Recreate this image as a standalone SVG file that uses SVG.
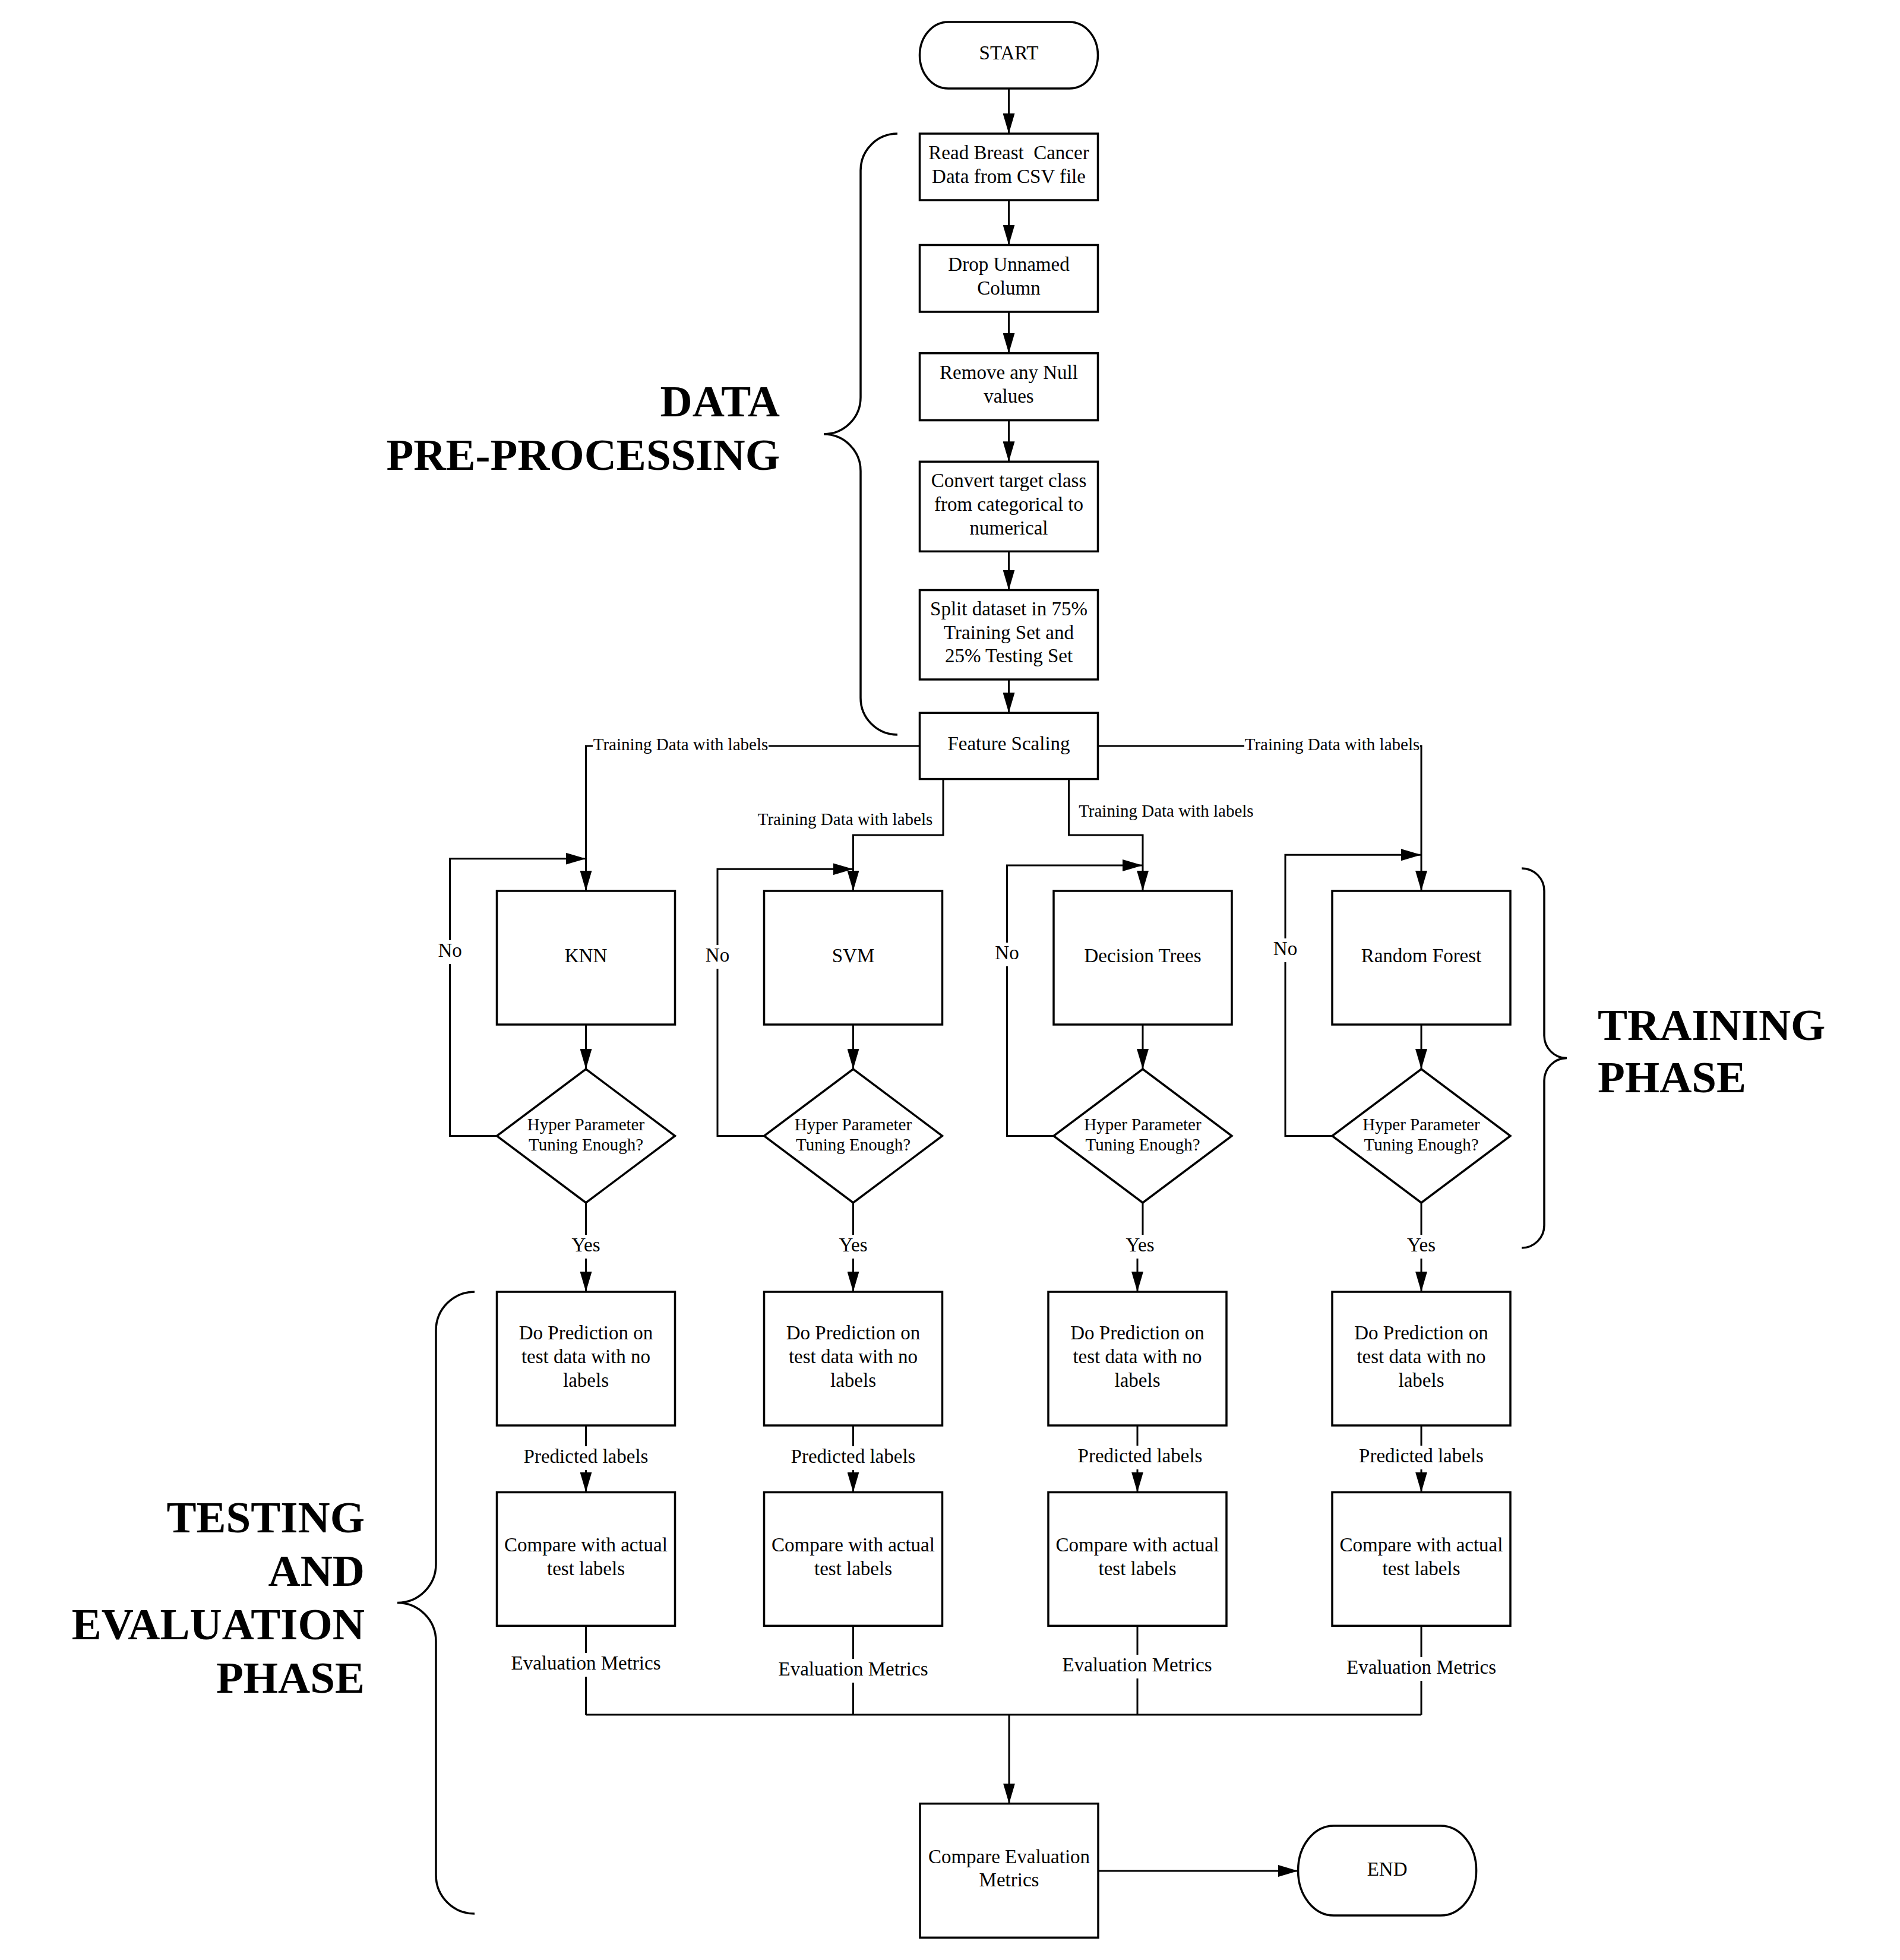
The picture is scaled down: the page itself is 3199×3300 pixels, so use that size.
<svg xmlns="http://www.w3.org/2000/svg" width="3199" height="3300" viewBox="0 0 3199 3300">
<style>
.box{fill:#fff;stroke:#000;stroke-width:3.5}
.con{fill:none;stroke:#000;stroke-width:3}
.arr{marker-end:url(#ah)}
.brace{fill:none;stroke:#000;stroke-width:3.5}
.t{font-family:"Liberation Serif","Times New Roman",serif;font-size:33px;fill:#000;text-anchor:middle}
.s{font-family:"Liberation Serif","Times New Roman",serif;font-size:29px;fill:#000;text-anchor:middle}
.h{font-family:"Liberation Serif","Times New Roman",serif;font-size:75px;font-weight:bold;fill:#000}
.bg{fill:#fff;stroke:none}
</style>
<defs>
<marker id="ah" markerUnits="userSpaceOnUse" markerWidth="34" markerHeight="20" refX="34" refY="10" orient="auto">
<path d="M0,0 L34,10 L0,20 z" fill="#000"/>
</marker>
</defs>
<rect width="3199" height="3300" fill="#fff"/>

<g id="connectors">
<path class="con arr" d="M1698.5,149 V225"/>
<path class="con arr" d="M1698.5,337 V412.5"/>
<path class="con arr" d="M1698.5,525 V594.7"/>
<path class="con arr" d="M1698.5,707.6 V777.3"/>
<path class="con arr" d="M1698.5,928.4 V993.5"/>
<path class="con arr" d="M1698.5,1144 V1200.3"/>
<path class="con arr" d="M1548.5,1256 H986.5 V1500"/>
<path class="con arr" d="M1588,1311.6 V1406 H1436.5 V1500"/>
<path class="con arr" d="M1799.6,1311.6 V1406 H1924 V1500"/>
<path class="con arr" d="M1848.5,1256 H2393 V1500"/>
<path class="con arr" d="M986.5,1725 V1800"/>
<path class="con arr" d="M1436.5,1725 V1800"/>
<path class="con arr" d="M1924,1725 V1800"/>
<path class="con arr" d="M2393,1725 V1800"/>
<path class="con arr" d="M836.5,1912.5 H757.6 V1445.7 H986.5"/>
<path class="con arr" d="M1286.5,1912.5 H1208 V1463.3 H1436.5"/>
<path class="con arr" d="M1774,1912.5 H1695.5 V1457 H1924"/>
<path class="con arr" d="M2243,1912.5 H2164 V1439.3 H2393"/>
<path class="con arr" d="M986.5,2025 V2175"/>
<path class="con arr" d="M1436.5,2025 V2175"/>
<path class="con arr" d="M1924,2025 V2099 H1915 V2175"/>
<path class="con arr" d="M2393,2025 V2175"/>
<path class="con arr" d="M986.5,2400 V2512.5"/>
<path class="con arr" d="M1436.5,2400 V2512.5"/>
<path class="con arr" d="M1915,2400 V2512.5"/>
<path class="con arr" d="M2393,2400 V2512.5"/>
<path class="con" d="M986.5,2737.3 V2887"/>
<path class="con" d="M1436.5,2737.3 V2887"/>
<path class="con" d="M1915,2737.3 V2887"/>
<path class="con" d="M2393,2737.3 V2887"/>
<path class="con" d="M986.5,2887 H2393"/>
<path class="con arr" d="M1699,2887 V3036.7"/>
<path class="con arr" d="M1849,3150 H2185.6"/>
</g>

<g id="connector-labels">
<rect class="bg" x="998" y="1237" width="296" height="38"/>
<text class="s" x="1146" y="1262.5">Training Data with labels</text>
<rect class="bg" x="2095" y="1237" width="296" height="38"/>
<text class="s" x="2243" y="1262.5">Training Data with labels</text>
<text class="s" x="1423" y="1388.5">Training Data with labels</text>
<text class="s" x="1963.4" y="1374.5">Training Data with labels</text>

<rect class="bg" x="735.6" y="1583" width="44" height="40"/>
<text class="t" x="757.6" y="1611">No</text>
<rect class="bg" x="1186" y="1591" width="44" height="40"/>
<text class="t" x="1208" y="1619">No</text>
<rect class="bg" x="1673.5" y="1587" width="44" height="40"/>
<text class="t" x="1695.5" y="1615">No</text>
<rect class="bg" x="2142" y="1580" width="44" height="40"/>
<text class="t" x="2164" y="1608">No</text>

<rect class="bg" x="958.5" y="2079" width="56" height="40"/>
<text class="t" x="986.5" y="2107">Yes</text>
<rect class="bg" x="1408.5" y="2079" width="56" height="40"/>
<text class="t" x="1436.5" y="2107">Yes</text>
<rect class="bg" x="1891.5" y="2079" width="56" height="40"/>
<text class="t" x="1919.5" y="2107">Yes</text>
<rect class="bg" x="2365" y="2079" width="56" height="40"/>
<text class="t" x="2393" y="2107">Yes</text>

<rect class="bg" x="879.5" y="2435" width="214" height="40"/>
<text class="t" x="986.5" y="2463">Predicted labels</text>
<rect class="bg" x="1329.5" y="2435" width="214" height="40"/>
<text class="t" x="1436.5" y="2463">Predicted labels</text>
<rect class="bg" x="1812.5" y="2434" width="214" height="40"/>
<text class="t" x="1919.5" y="2462">Predicted labels</text>
<rect class="bg" x="2286" y="2434" width="214" height="40"/>
<text class="t" x="2393" y="2462">Predicted labels</text>

<rect class="bg" x="858.5" y="2783" width="256" height="40"/>
<text class="t" x="986.5" y="2811">Evaluation Metrics</text>
<rect class="bg" x="1308.5" y="2793" width="256" height="40"/>
<text class="t" x="1436.5" y="2821">Evaluation Metrics</text>
<rect class="bg" x="1786.5" y="2786" width="256" height="40"/>
<text class="t" x="1914.5" y="2814">Evaluation Metrics</text>
<rect class="bg" x="2265" y="2790" width="256" height="40"/>
<text class="t" x="2393" y="2818">Evaluation Metrics</text>
</g>

<g id="start">
<rect class="box" x="1548.5" y="37" width="300" height="112" rx="48" ry="56"/>
<text class="t" x="1698.5" y="100">START</text>
</g>
<g id="read-data">
<rect class="box" x="1548.5" y="225" width="300" height="112"/>
<text class="t" x="1698.5" y="268.2" style="white-space:pre">Read Breast  Cancer</text>
<text class="t" x="1698.5" y="307.8">Data from CSV file</text>
</g>
<g id="drop-column">
<rect class="box" x="1548.5" y="412.5" width="300" height="112.5"/>
<text class="t" x="1698.5" y="456">Drop Unnamed</text>
<text class="t" x="1698.5" y="495.5">Column</text>
</g>
<g id="remove-null">
<rect class="box" x="1548.5" y="594.7" width="300" height="112.9"/>
<text class="t" x="1698.5" y="638.4">Remove any Null</text>
<text class="t" x="1698.5" y="678">values</text>
</g>
<g id="convert-target">
<rect class="box" x="1548.5" y="777.3" width="300" height="151.1"/>
<text class="t" x="1698.5" y="820.3">Convert target class</text>
<text class="t" x="1698.5" y="859.9">from categorical to</text>
<text class="t" x="1698.5" y="899.5">numerical</text>
</g>
<g id="split-dataset">
<rect class="box" x="1548.5" y="993.5" width="300" height="150.5"/>
<text class="t" x="1698.5" y="1036.2">Split dataset in 75%</text>
<text class="t" x="1698.5" y="1075.8">Training Set and</text>
<text class="t" x="1698.5" y="1115.4">25% Testing Set</text>
</g>
<g id="feature-scaling">
<rect class="box" x="1548.5" y="1200.3" width="300" height="111.3"/>
<text class="t" x="1698.5" y="1263">Feature Scaling</text>
</g>

<g id="knn">
<rect class="box" x="836.5" y="1500" width="300" height="225"/>
<text class="t" x="986.5" y="1619.5">KNN</text>
</g>
<g id="svm">
<rect class="box" x="1286.5" y="1500" width="300" height="225"/>
<text class="t" x="1436.5" y="1619.5">SVM</text>
</g>
<g id="decision-trees">
<rect class="box" x="1774" y="1500" width="300" height="225"/>
<text class="t" x="1924" y="1619.5">Decision Trees</text>
</g>
<g id="random-forest">
<rect class="box" x="2243" y="1500" width="300" height="225"/>
<text class="t" x="2393" y="1619.5">Random Forest</text>
</g>

<g id="knn-tuning">
<path class="box" d="M986.5,1800 L1136.5,1912.5 L986.5,2025 L836.5,1912.5 Z"/>
<text class="s" x="986.5" y="1902.5">Hyper Parameter</text>
<text class="s" x="986.5" y="1937.3">Tuning Enough?</text>
</g>
<g id="svm-tuning">
<path class="box" d="M1436.5,1800 L1586.5,1912.5 L1436.5,2025 L1286.5,1912.5 Z"/>
<text class="s" x="1436.5" y="1902.5">Hyper Parameter</text>
<text class="s" x="1436.5" y="1937.3">Tuning Enough?</text>
</g>
<g id="dt-tuning">
<path class="box" d="M1924,1800 L2074,1912.5 L1924,2025 L1774,1912.5 Z"/>
<text class="s" x="1924" y="1902.5">Hyper Parameter</text>
<text class="s" x="1924" y="1937.3">Tuning Enough?</text>
</g>
<g id="rf-tuning">
<path class="box" d="M2393,1800 L2543,1912.5 L2393,2025 L2243,1912.5 Z"/>
<text class="s" x="2393" y="1902.5">Hyper Parameter</text>
<text class="s" x="2393" y="1937.3">Tuning Enough?</text>
</g>

<g id="knn-predict">
<rect class="box" x="836.5" y="2175" width="300" height="225"/>
<text class="t" x="986.5" y="2255.3">Do Prediction on</text>
<text class="t" x="986.5" y="2294.9">test data with no</text>
<text class="t" x="986.5" y="2334.5">labels</text>
</g>
<g id="svm-predict">
<rect class="box" x="1286.5" y="2175" width="300" height="225"/>
<text class="t" x="1436.5" y="2255.3">Do Prediction on</text>
<text class="t" x="1436.5" y="2294.9">test data with no</text>
<text class="t" x="1436.5" y="2334.5">labels</text>
</g>
<g id="dt-predict">
<rect class="box" x="1765" y="2175" width="300" height="225"/>
<text class="t" x="1915" y="2255.3">Do Prediction on</text>
<text class="t" x="1915" y="2294.9">test data with no</text>
<text class="t" x="1915" y="2334.5">labels</text>
</g>
<g id="rf-predict">
<rect class="box" x="2243" y="2175" width="300" height="225"/>
<text class="t" x="2393" y="2255.3">Do Prediction on</text>
<text class="t" x="2393" y="2294.9">test data with no</text>
<text class="t" x="2393" y="2334.5">labels</text>
</g>

<g id="knn-compare">
<rect class="box" x="836.5" y="2512.5" width="300" height="224.8"/>
<text class="t" x="986.5" y="2612.1">Compare with actual</text>
<text class="t" x="986.5" y="2651.7">test labels</text>
</g>
<g id="svm-compare">
<rect class="box" x="1286.5" y="2512.5" width="300" height="224.8"/>
<text class="t" x="1436.5" y="2612.1">Compare with actual</text>
<text class="t" x="1436.5" y="2651.7">test labels</text>
</g>
<g id="dt-compare">
<rect class="box" x="1765" y="2512.5" width="300" height="224.8"/>
<text class="t" x="1915" y="2612.1">Compare with actual</text>
<text class="t" x="1915" y="2651.7">test labels</text>
</g>
<g id="rf-compare">
<rect class="box" x="2243" y="2512.5" width="300" height="224.8"/>
<text class="t" x="2393" y="2612.1">Compare with actual</text>
<text class="t" x="2393" y="2651.7">test labels</text>
</g>

<g id="compare-evaluation">
<rect class="box" x="1549" y="3036.7" width="300" height="225.6"/>
<text class="t" x="1699" y="3136.7">Compare Evaluation</text>
<text class="t" x="1699" y="3176.3">Metrics</text>
</g>
<g id="end">
<rect class="box" x="2185.6" y="3074" width="300" height="151" rx="60" ry="75"/>
<text class="t" x="2335.6" y="3158">END</text>
</g>

<g id="phase-data-preprocessing">
<path class="brace" d="M1511,225 A62,62 0 0 0 1449,287 L1449,669 A62,62 0 0 1 1387,731 A62,62 0 0 1 1449,793 L1449,1175 A62,62 0 0 0 1511,1237"/>
<text class="h" x="1313" y="701" text-anchor="end">DATA</text>
<text class="h" x="1313" y="791" text-anchor="end">PRE-PROCESSING</text>
</g>
<g id="phase-training">
<path class="brace" d="M2562,1462 A38,38 0 0 1 2600,1500 L2600,1743.5 A38,38 0 0 0 2638,1781.5 A38,38 0 0 0 2600,1819.5 L2600,2063 A38,38 0 0 1 2562,2101"/>
<text class="h" x="2690" y="1751">TRAINING</text>
<text class="h" x="2690" y="1839">PHASE</text>
</g>
<g id="phase-testing">
<path class="brace" d="M799,2175 A65,65 0 0 0 734,2240 L734,2633.5 A65,65 0 0 1 669,2698.5 A65,65 0 0 1 734,2763.5 L734,3157 A65,65 0 0 0 799,3222"/>
<text class="h" x="614" y="2580" text-anchor="end">TESTING</text>
<text class="h" x="614" y="2670" text-anchor="end">AND</text>
<text class="h" x="614" y="2760" text-anchor="end">EVALUATION</text>
<text class="h" x="614" y="2850" text-anchor="end">PHASE</text>
</g>
</svg>
